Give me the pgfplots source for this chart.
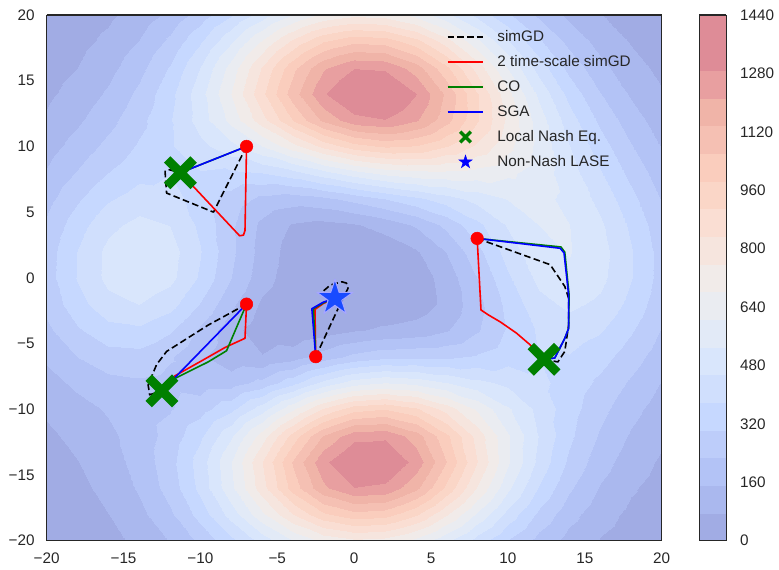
\documentclass[border=0pt]{standalone}
\usepackage{pgfplots}
\pgfplotsset{compat=1.18}
\usepackage{fontspec}
\setmainfont{Liberation Sans}

\definecolor{fg}{gray}{0.15}
\definecolor{mgreen}{RGB}{0,128,0}
\definecolor{starblue}{RGB}{25,75,255}

% filled five-pointed star
\pgfdeclareplotmark{fstar}{%
  \pgfpathmoveto{\pgfpointpolar{90}{\pgfplotmarksize}}%
  \pgfpathlineto{\pgfpointpolar{126}{0.382*\pgfplotmarksize}}%
  \pgfpathlineto{\pgfpointpolar{162}{\pgfplotmarksize}}%
  \pgfpathlineto{\pgfpointpolar{198}{0.382*\pgfplotmarksize}}%
  \pgfpathlineto{\pgfpointpolar{234}{\pgfplotmarksize}}%
  \pgfpathlineto{\pgfpointpolar{270}{0.382*\pgfplotmarksize}}%
  \pgfpathlineto{\pgfpointpolar{306}{\pgfplotmarksize}}%
  \pgfpathlineto{\pgfpointpolar{342}{0.382*\pgfplotmarksize}}%
  \pgfpathlineto{\pgfpointpolar{18}{\pgfplotmarksize}}%
  \pgfpathlineto{\pgfpointpolar{54}{0.382*\pgfplotmarksize}}%
  \pgfpathclose
  \pgfusepathqfillstroke}

\pgfplotsset{
  colormap={cwband}{
    rgb255=(161,172,228) rgb255=(170,184,238) rgb255=(179,195,246)
    rgb255=(189,205,250) rgb255=(198,216,255) rgb255=(208,223,253)
    rgb255=(217,230,252) rgb255=(226,234,247) rgb255=(234,236,241)
    rgb255=(241,235,233) rgb255=(246,229,222) rgb255=(250,222,211)
    rgb255=(250,214,199) rgb255=(250,205,189) rgb255=(245,192,179)
    rgb255=(240,180,168) rgb255=(232,159,160) rgb255=(222,140,151)
    rgb255=(222,140,151)},
  linelegend/.style={legend image code/.code={\draw[##1] (0pt,0pt) -- (25.6pt,0pt);}},
  marklegend/.style={legend image code/.code={\draw[##1] plot coordinates {(12.8pt,0pt)};}},
  traj/.style={line width=1.15pt, line join=round, forget plot},
}

\begin{document}
\begin{tikzpicture}
\begin{axis}[
  name=main,
  view={0}{90},
  scale only axis, width=442.8pt, height=378.5pt,
  xmin=-20, xmax=20, ymin=-20, ymax=20,
  enlargelimits=false,
  axis on top,
  xtick={-20,-15,...,20}, ytick={-20,-15,...,20}, ztick=\empty,
  xticklabels={−20,−15,−10,−5,0,5,10,15,20},
  yticklabels={−20,−15,−10,−5,0,5,10,15,20},
  major tick length=0pt,
  tick style={draw=none},
  axis line style={draw=fg, line width=0.9pt},
  ticklabel style={font=\fontsize{11}{13}\selectfont, text=fg},
  xticklabel style={yshift=-5.2pt},
  yticklabel style={xshift=-5.2pt},
  colormap name=cwband,
  colormap access=piecewise constant,
  point meta min=0, point meta max=1440,
  colorbar,
  colorbar style={
    at={(parent axis.north east)}, anchor=north west, xshift=18.5pt,
    scale only axis, width=19.5pt, height=378.5pt,
    ytick={0,160,...,1440},
    yticklabels={0,160,320,480,640,800,960,1120,1280,1440},
    major tick length=0pt,
    tick style={draw=none},
    axis line style={draw=fg, line width=0.9pt},
    yticklabel style={font=\fontsize{11}{13}\selectfont, text=fg, xshift=6.5pt},
  },
  linelegend,
  legend cell align=left,
  legend style={
    draw=none, fill=none,
    at={(0.6504,0.9758)}, anchor=north west,
    font=\fontsize{11}{13}\selectfont, text=fg,
    inner sep=0pt, row sep=5pt,
    nodes={inner sep=1pt, text height=8.5pt, text depth=2.5pt},
    /tikz/every odd column/.append style={column sep=8.6pt},
  },
]

\addplot3[surf, shader=interp, mesh/rows=21, mesh/cols=21, point meta=z, forget plot]
table[row sep=\\] {
x y z\\
-20 -20 14.2\\ -18 -20 28\\ -16 -20 52.5\\ -14 -20 93.2\\ -12 -20 155.8\\ -10 -20 244\\ -8 -20 356.1\\ -6 -20 482.1\\ -4 -20 603.3\\ -2 -20 696.3\\ 0 -20 740.1\\ 2 -20 724.4\\ 4 -20 653.3\\ 6 -20 543.5\\ 8 -20 418\\ 10 -20 297.9\\ 12 -20 197.4\\ 14 -20 122.1\\ 16 -20 70.6\\ 18 -20 38.3\\ 20 -20 19.6\\
-20 -18 21.9\\ -18 -18 41.4\\ -16 -18 75\\ -14 -18 130\\ -12 -18 214.6\\ -10 -18 334.9\\ -8 -18 489.7\\ -6 -18 666.3\\ -4 -18 838.9\\ -2 -18 973.8\\ 0 -18 1040.4\\ 2 -18 1022.6\\ 4 -18 925.4\\ 6 -18 772.5\\ 8 -18 596.8\\ 10 -18 428.3\\ 12 -18 286.8\\ 14 -18 180\\ 16 -18 106.4\\ 18 -18 59.3\\ 20 -18 31.2\\
-20 -16 31.8\\ -18 -16 56.6\\ -16 -16 97\\ -14 -16 161.4\\ -12 -16 260\\ -10 -16 401.5\\ -8 -16 587.4\\ -6 -16 804.2\\ -4 -16 1021\\ -2 -16 1195.4\\ 0 -16 1286.3\\ 2 -16 1271.4\\ 4 -16 1156\\ 6 -16 969.8\\ 8 -16 754.3\\ 10 -16 547.1\\ 12 -16 372.5\\ 14 -16 239.5\\ 16 -16 146\\ 18 -16 84.5\\ 20 -16 46.3\\
-20 -14 44.7\\ -18 -14 73.5\\ -16 -14 116.2\\ -14 -14 179.8\\ -12 -14 275.3\\ -10 -14 414.6\\ -8 -14 603.6\\ -6 -14 832.8\\ -4 -14 1070.8\\ -2 -14 1269.4\\ 0 -14 1380.4\\ 2 -14 1375.5\\ 4 -14 1259\\ 6 -14 1064\\ 8 -14 836.6\\ 10 -14 617.7\\ 12 -14 432.3\\ 14 -14 288.7\\ 16 -14 184.4\\ 18 -14 112.4\\ 20 -14 64.9\\
-20 -12 62.4\\ -18 -12 94.4\\ -16 -12 134.3\\ -14 -12 185.4\\ -12 -12 256.7\\ -10 -12 363.3\\ -8 -12 518.2\\ -6 -12 720.3\\ -4 -12 944\\ -2 -12 1142\\ 0 -12 1262.4\\ 2 -12 1273\\ 4 -12 1176.6\\ 6 -12 1005.9\\ 8 -12 806\\ 10 -12 614.3\\ 12 -12 450.7\\ 14 -12 319.9\\ 16 -12 218.7\\ 18 -12 142.5\\ 20 -12 87.4\\
-20 -10 87.6\\ -18 -10 124.3\\ -16 -10 159.8\\ -14 -10 190.5\\ -12 -10 221.9\\ -10 -10 270.7\\ -8 -10 358.6\\ -6 -10 497\\ -4 -10 671.8\\ -2 -10 841.7\\ 0 -10 956.5\\ 2 -10 983.1\\ 4 -10 922.6\\ 6 -10 805\\ 8 -10 669\\ 10 -10 541.3\\ 12 -10 431.1\\ 14 -10 335.6\\ 16 -10 250.8\\ 18 -10 176.2\\ 20 -10 114.6\\
-20 -8 122.6\\ -18 -8 168.4\\ -16 -8 203.4\\ -14 -8 215.8\\ -12 -8 204.8\\ -10 -8 187.8\\ -8 -8 194.9\\ -6 -8 251.6\\ -4 -8 356.9\\ -2 -8 479.4\\ 0 -8 573.7\\ 2 -8 609\\ 4 -8 586.9\\ 6 -8 534.1\\ 8 -8 479.6\\ 10 -8 436.1\\ 12 -8 396.7\\ 14 -8 348.9\\ 16 -8 286.8\\ 18 -8 215.9\\ 20 -8 147.3\\
-20 -6 166.2\\ -18 -6 227.2\\ -16 -6 270.6\\ -14 -6 275.6\\ -12 -6 234.7\\ -10 -6 164.3\\ -8 -6 100.8\\ -6 -6 81.3\\ -4 -6 117.4\\ -2 -6 187\\ 0 -6 251.2\\ 2 -6 283.5\\ 4 -6 288.6\\ 6 -6 291.6\\ 8 -6 312.7\\ 10 -6 349.1\\ 12 -6 377.5\\ 14 -6 374.6\\ 16 -6 332.7\\ 18 -6 262.6\\ 20 -6 184.6\\
-20 -4 212.3\\ -18 -4 293.2\\ -16 -4 353.3\\ -14 -4 364.8\\ -12 -4 313.5\\ -10 -4 213.2\\ -8 -4 103.8\\ -6 -4 29.8\\ -4 -4 12.1\\ -2 -4 35.9\\ 0 -4 68.2\\ 2 -4 88.3\\ 4 -4 105\\ 6 -4 144\\ 8 -4 218.8\\ 10 -4 313.5\\ 12 -4 391.1\\ 14 -4 418.6\\ 16 -4 387\\ 18 -4 312.4\\ 20 -4 222.3\\
-20 -2 250.8\\ -18 -2 350.6\\ -16 -2 430.1\\ -14 -2 456.1\\ -12 -2 409.1\\ -10 -2 299.7\\ -8 -2 168.2\\ -6 -2 62.6\\ -4 -2 9.7\\ -2 -2 0.6\\ 0 -2 7.7\\ 2 -2 15.4\\ 4 -2 35.9\\ 6 -2 94.8\\ 8 -2 200.6\\ 10 -2 328\\ 12 -2 430.9\\ 14 -2 471.2\\ 16 -2 439.6\\ 18 -2 356\\ 20 -2 253.6\\
-20 0 271.1\\ -18 0 382.7\\ -16 0 475.7\\ -14 0 514.6\\ -12 0 476.2\\ -10 0 367.9\\ -8 0 228.3\\ -6 0 106.7\\ -4 0 33.2\\ -2 0 5.2\\ 0 0 0\\ 2 0 5.2\\ 4 0 33.2\\ 6 0 106.7\\ 8 0 228.3\\ 10 0 367.9\\ 12 0 476.2\\ 14 0 514.6\\ 16 0 475.7\\ 18 0 382.7\\ 20 0 271.1\\
-20 2 267.7\\ -18 2 379.9\\ -16 2 475.7\\ -14 2 519.8\\ -12 2 487.8\\ -10 2 384.6\\ -8 2 245.7\\ -6 2 120.7\\ -4 2 41\\ -2 2 9.4\\ 0 2 7.7\\ 2 2 24.2\\ 4 2 67.1\\ 6 2 152.8\\ 8 2 278.1\\ 10 2 412.8\\ 12 2 509.7\\ 14 2 535\\ 16 2 485.2\\ 18 2 385.3\\ 20 2 270.5\\
-20 4 242.3\\ -18 4 345.1\\ -16 4 434.3\\ -14 4 477.7\\ -12 4 453\\ -10 4 363.6\\ -8 4 241.8\\ -6 4 132.6\\ -4 4 67.8\\ -2 4 51.6\\ 0 4 68.2\\ 2 4 104\\ 4 4 160.8\\ 6 4 246.7\\ 8 4 356.8\\ 10 4 464\\ 12 4 530.6\\ 14 4 531.5\\ 16 4 468\\ 18 4 364.3\\ 20 4 252.3\\
-20 6 203\\ -18 6 291\\ -16 6 370\\ -14 6 414.2\\ -12 6 406.1\\ -10 6 349\\ -8 6 270.4\\ -6 6 207.4\\ -4 6 186\\ -2 6 206.5\\ 0 6 251.2\\ 2 6 303\\ 4 6 357.3\\ 6 6 417.6\\ 8 6 482.3\\ 10 6 533.9\\ 12 6 549\\ 14 6 513.3\\ 16 6 432.1\\ 18 6 326.4\\ 20 6 221.4\\
-20 8 159.7\\ -18 8 232.6\\ -16 8 303.5\\ -14 8 355.5\\ -12 8 377.4\\ -10 8 374\\ -8 8 365.9\\ -6 8 378.6\\ -4 8 426\\ -2 8 499\\ 0 8 573.7\\ 2 8 628.7\\ 4 8 656\\ 6 8 661\\ 8 8 650.6\\ 10 8 622.3\\ 12 8 569.3\\ 14 8 488.6\\ 16 8 387\\ 18 8 280.1\\ 20 8 184.4\\
-20 10 120\\ -18 10 180.3\\ -16 10 247.1\\ -14 10 312.4\\ -12 10 372.5\\ -10 10 433.1\\ -8 10 507.6\\ -6 10 608\\ -4 10 732\\ -2 10 858.5\\ 0 10 956.5\\ 2 10 1000\\ 4 10 982.8\\ 6 10 916\\ 8 10 818\\ 10 10 703.7\\ 12 10 581.7\\ 14 10 457.5\\ 16 10 338.1\\ 18 10 232.2\\ 20 10 146.9\\
-20 12 87.4\\ -18 12 137.7\\ -16 12 201.8\\ -14 12 279.6\\ -12 12 373.1\\ -10 12 488.8\\ -8 12 633.3\\ -6 12 806\\ -4 12 990.5\\ -2 12 1155\\ 0 12 1262.4\\ 2 12 1286\\ 4 12 1223\\ 6 12 1091.6\\ 8 12 921\\ 10 12 739.8\\ 12 12 567.1\\ 14 12 414.1\\ 16 12 286.2\\ 18 12 185.8\\ 20 12 112.4\\
-20 14 62\\ -18 14 103.5\\ -16 14 163\\ -14 14 245.2\\ -12 14 356\\ -10 14 501.6\\ -8 14 683.5\\ -6 14 892\\ -4 14 1103\\ -2 14 1278.5\\ 0 14 1380.4\\ 2 14 1384.6\\ 4 14 1291\\ 6 14 1123\\ 8 14 916.4\\ 10 14 704.8\\ 12 14 513\\ 14 14 354\\ 16 14 231.3\\ 18 14 142.4\\ 20 14 82.3\\
-20 16 42.7\\ -18 16 75.4\\ -16 16 126.4\\ -14 16 202.4\\ -12 16 310.6\\ -10 16 456\\ -8 16 637.4\\ -6 16 841\\ -4 16 1041\\ -2 16 1201\\ 0 16 1286\\ 2 16 1277\\ 4 16 1176\\ 6 16 1007\\ 8 16 804\\ 10 16 601.7\\ 12 16 423\\ 14 16 280.5\\ 16 16 175.4\\ 18 16 103.3\\ 20 16 57.2\\
-20 18 28.1\\ -18 18 52.2\\ -16 18 91.7\\ -14 18 153.4\\ -12 18 243.5\\ -10 18 366\\ -8 18 518\\ -6 18 687.5\\ -4 18 850\\ -2 18 977\\ 0 18 1040\\ 2 18 1026\\ 4 18 937\\ 6 18 794\\ 8 18 625\\ 10 18 459\\ 12 18 315.6\\ 14 18 203.4\\ 16 18 123.1\\ 18 18 70.1\\ 20 18 37.4\\
-20 20 17.5\\ -18 20 33.6\\ -16 20 61.2\\ -14 20 105.3\\ -12 20 170.8\\ -10 20 260.2\\ -8 20 371\\ -6 20 493\\ -4 20 609\\ -2 20 698\\ 0 20 740\\ 2 20 726\\ 4 20 659\\ 6 20 554.5\\ 8 20 433\\ 10 20 314\\ 12 20 212.4\\ 14 20 134.2\\ 16 20 79.3\\ 18 20 43.9\\ 20 20 22.8\\
};

% simGD
\addplot[traj, black, dash pattern=on 4.8pt off 2.4pt] coordinates {(-7,10) (-9.15,5.0) (-12.2,6.45) (-12.3,8.1) (-12.1,8.25) (-11.3,8.0)};
\addplot[traj, black, dash pattern=on 4.8pt off 2.4pt] coordinates {(-7,-2) (-9.5,-3.6) (-12.2,-5.6) (-12.85,-6.6) (-13.4,-8.15) (-13.3,-8.9) (-12.5,-8.6)};
\addplot[traj, black, dash pattern=on 4.8pt off 2.4pt] coordinates {(-2.5,-6) (-1.15,-2.6) (-0.4,-0.8) (-0.5,-0.4) (-0.8,-0.3) (-1.55,-0.55) (-2.2,-1.2) (-1.25,-1.55)};
\addplot[traj, black, dash pattern=on 4.8pt off 2.4pt] coordinates {(8,3) (12.75,1.0) (13.7,-0.65) (13.95,-1.55) (13.95,-3.6) (13.7,-5.6) (13.25,-6.4) (12.35,-6.2)};
% 2 time-scale simGD
\addplot[traj, red] coordinates {(-7,10) (-7.1,3.6) (-7.2,3.25) (-7.45,3.2) (-11.3,8.0)};
\addplot[traj, red] coordinates {(-7,-2) (-7.1,-4.6) (-8.4,-5.3) (-9.9,-6.3) (-11.65,-7.45) (-12.5,-8.6)};
\addplot[traj, red] coordinates {(-2.5,-6) (-2.55,-2.4) (-2.0,-1.95) (-1.25,-1.55)};
\addplot[traj, red] coordinates {(8,3) (8.25,-2.45) (8.7,-2.8) (9.5,-3.35) (10.55,-4.2) (11.45,-5.1) (12.35,-6.2)};
% CO
\addplot[traj, mgreen] coordinates {(-7,10) (-11.3,8.0)};
\addplot[traj, mgreen] coordinates {(-7,-2) (-8.3,-5.55) (-9.5,-6.4) (-11.65,-7.65) (-12.5,-8.6)};
\addplot[traj, mgreen] coordinates {(-2.5,-6) (-2.65,-2.35) (-2.0,-1.9) (-1.25,-1.55)};
\addplot[traj, mgreen] coordinates {(8,3) (13.45,2.35) (13.7,1.95) (13.98,-1.3) (13.95,-3.85) (13.7,-4.6) (13.05,-6.1) (12.35,-6.2)};
% SGA
\addplot[traj, blue] coordinates {(-7,10) (-11.3,8.0)};
\addplot[traj, blue] coordinates {(-7,-2) (-12.5,-8.6)};
\addplot[traj, blue] coordinates {(-2.5,-6) (-2.75,-2.35) (-2.0,-1.85) (-1.25,-1.55)};
\addplot[traj, blue] coordinates {(8,3) (13.4,2.25) (13.65,1.9) (13.95,-1.3) (13.95,-3.85) (13.7,-4.6) (13.05,-6.1) (12.35,-6.2)};

% starting points
\addplot[only marks, mark=*, mark size=4.5pt, mark options={fill=red, draw=red}, forget plot]
  coordinates {(-7,10) (-7,-2) (-2.5,-6) (8,3)};
% equilibria
\addplot[only marks, mark=x, mark size=13.5pt, mark options={draw=mgreen, line width=6.5pt}, forget plot]
  coordinates {(-11.3,8.0) (-12.5,-8.6) (12.35,-6.2)};
\addplot[only marks, mark=fstar, mark size=13.6pt, mark options={fill=starblue, draw=blue!35!white, line width=0.8pt, line join=round}, forget plot]
  coordinates {(-1.25,-1.55)};

% legend
\addlegendimage{linelegend, black, line width=1.15pt, dash pattern=on 4.8pt off 2.2pt}
\addlegendentry{simGD}
\addlegendimage{linelegend, red, line width=1.15pt}
\addlegendentry{2 time-scale simGD}
\addlegendimage{linelegend, mgreen, line width=1.15pt}
\addlegendentry{CO}
\addlegendimage{linelegend, blue, line width=1.15pt}
\addlegendentry{SGA}
\addlegendimage{marklegend, only marks, mark=x, mark size=5.4pt, mark options={draw=mgreen, line width=2.5pt}}
\addlegendentry{Local Nash Eq.}
\addlegendimage{marklegend, only marks, mark=fstar, mark size=4.9pt, mark options={fill=blue, draw=blue}}
\addlegendentry{Non-Nash LASE}
\end{axis}
\pgfresetboundingbox
\path[use as bounding box] ([xshift=-33.6pt,yshift=-20.4pt]main.south west) rectangle ([xshift=84.5pt,yshift=10.8pt]main.north east);
\end{tikzpicture}
\end{document}
